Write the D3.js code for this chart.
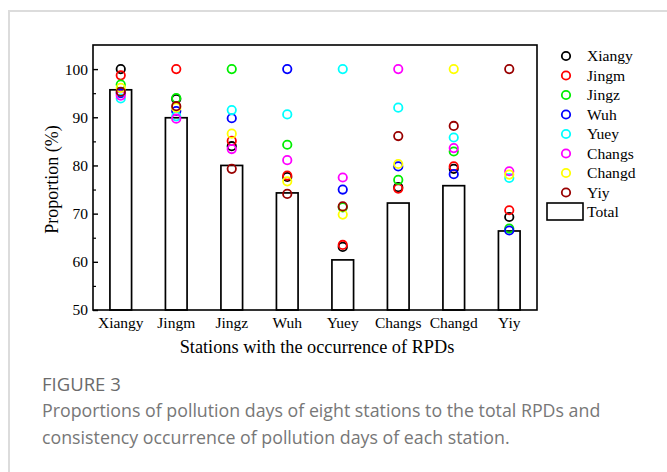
<!DOCTYPE html>
<html>
<head>
<meta charset="utf-8">
<script src="https://cdn.jsdelivr.net/npm/d3@7"></script>
<style>
  html, body { margin: 0; padding: 0; background: #fff; }
  svg { display: block; }
</style>
</head>
<body>
<svg id="chart" width="667" height="472"></svg>
<script>
// Stations (x categories)
const stations = ["Xiangy", "Jingm", "Jingz", "Wuh", "Yuey", "Changs", "Changd", "Yiy"];

// Proportion of each station's pollution days to the total RPDs (%)
const total = [95.7, 89.9, 80.0, 74.3, 60.4, 72.2, 75.8, 66.4];

// Consistency of occurrence: one series per station, one value per column
const xiangy = [100, 93.8, 84.0, 77.6, 63.1, 75.5, 79.3, 69.3];
const jingm  = [98.7, 100, 85.1, 77.9, 63.5, 75.2, 79.8, 70.7];
const jingz  = [96.8, 94.0, 100, 84.3, 71.3, 77.0, 82.9, 66.9];
const wuh    = [95.0, 91.3, 89.8, 100, 75.0, 79.8, 78.2, 66.5];
const yuey   = [93.9, 90.2, 91.5, 90.6, 100, 92.0, 85.8, 77.4];
const changs = [94.5, 89.7, 83.4, 81.1, 77.5, 100, 83.6, 78.8];
const changd = [96.1, 92.0, 86.6, 76.7, 69.8, 80.3, 100, 78.1];
const yiy    = [95.3, 92.3, 79.3, 74.1, 71.5, 86.1, 88.2, 100];

const seriesNames  = ["Xiangy", "Jingm", "Jingz", "Wuh", "Yuey", "Changs", "Changd", "Yiy"];
const seriesValues = [xiangy, jingm, jingz, wuh, yuey, changs, changd, yiy];
const seriesColors = ["#000000", "#ff0000", "#00ee00", "#0000ff", "#00ffff", "#ff00ff", "#ffff00", "#990000"];

const yTicks = [50, 60, 70, 80, 90, 100];
const yMinorTicks = [55, 65, 75, 85, 95];

const captionTitle = "FIGURE 3";
const captionLines = [
  "Proportions of pollution days of eight stations to the total RPDs and",
  "consistency occurrence of pollution days of each station."
];

const svg = d3.select("#chart");
const serif = "'Liberation Serif', 'Times New Roman', serif";

// Card outline
svg.append("path")
  .attr("d", "M9,472 V11 H667")
  .attr("fill", "none")
  .attr("stroke", "#dcdcdc")
  .attr("stroke-width", 2);

const plot = { left: 93, top: 45, right: 537, bottom: 310 };

const x = d3.scaleBand()
  .domain(stations)
  .range([plot.left, plot.right])
  .paddingInner(0.61)
  .paddingOuter(0.305);

const y = d3.scaleLinear()
  .domain([50, 105])
  .range([plot.bottom, plot.top]);

const g = svg.append("g");

// Total bars
g.selectAll("rect.bar")
  .data(stations)
  .join("rect")
  .attr("class", "bar")
  .attr("x", d => x(d))
  .attr("width", x.bandwidth())
  .attr("y", (d, i) => y(total[i]))
  .attr("height", (d, i) => y(50) - y(total[i]))
  .attr("fill", "#fff")
  .attr("stroke", "#000")
  .attr("stroke-width", 1.7);

// Circles for each series
seriesValues.forEach((vals, s) => {
  g.append("g")
    .selectAll("circle")
    .data(vals)
    .join("circle")
    .attr("cx", (d, i) => x(stations[i]) + x.bandwidth() / 2)
    .attr("cy", d => y(d))
    .attr("r", 4.2)
    .attr("fill", "none")
    .attr("stroke", seriesColors[s])
    .attr("stroke-width", 1.8);
});

// Plot frame
g.append("rect")
  .attr("x", plot.left)
  .attr("y", plot.top)
  .attr("width", plot.right - plot.left)
  .attr("height", plot.bottom - plot.top)
  .attr("fill", "none")
  .attr("stroke", "#000")
  .attr("stroke-width", 1.6);

// Y axis with inward ticks
const yAxis = d3.axisLeft(y)
  .tickValues(yTicks)
  .tickSizeInner(-5)
  .tickSizeOuter(0)
  .tickPadding(5)
  .tickFormat(d3.format("d"));

const yg = svg.append("g")
  .attr("transform", `translate(${plot.left},0)`)
  .call(yAxis);
yg.select(".domain").remove();
yg.selectAll(".tick line").attr("stroke", "#000").attr("stroke-width", 1.4);
yg.selectAll(".tick text")
  .attr("font-family", serif)
  .attr("font-size", 15.5)
  .attr("fill", "#000");

const yMinor = d3.axisLeft(y)
  .tickValues(yMinorTicks)
  .tickSizeInner(-3)
  .tickSizeOuter(0)
  .tickFormat("");
const ymg = svg.append("g")
  .attr("transform", `translate(${plot.left},0)`)
  .call(yMinor);
ymg.select(".domain").remove();
ymg.selectAll(".tick line").attr("stroke", "#000").attr("stroke-width", 1.2);

// X axis labels
const xAxis = d3.axisBottom(x).tickSize(0).tickPadding(7);
const xg = svg.append("g")
  .attr("transform", `translate(0,${plot.bottom})`)
  .call(xAxis);
xg.select(".domain").remove();
xg.selectAll(".tick text")
  .attr("font-family", serif)
  .attr("font-size", 15.5)
  .attr("fill", "#000");

// Axis titles
svg.append("text")
  .attr("transform", `translate(58,${(plot.top + plot.bottom) / 2 + 2}) rotate(-90)`)
  .attr("text-anchor", "middle")
  .attr("font-family", serif)
  .attr("font-size", 18)
  .text("Proportion (%)");

svg.append("text")
  .attr("x", (plot.left + plot.right) / 2 + 2)
  .attr("y", 353)
  .attr("text-anchor", "middle")
  .attr("font-family", serif)
  .attr("font-size", 18.3)
  .text("Stations with the occurrence of RPDs");

// Legend
const legend = svg.append("g");
const legendY0 = 56, legendStep = 19.5;
seriesNames.forEach((name, i) => {
  const ly = legendY0 + i * legendStep;
  legend.append("circle")
    .attr("cx", 566).attr("cy", ly).attr("r", 4.2)
    .attr("fill", "none").attr("stroke", seriesColors[i]).attr("stroke-width", 1.8);
  legend.append("text")
    .attr("x", 587).attr("y", ly + 5)
    .attr("font-family", serif).attr("font-size", 15.6)
    .text(name);
});
const totalY = legendY0 + 8 * legendStep;
legend.append("rect")
  .attr("x", 547).attr("y", totalY - 9).attr("width", 36).attr("height", 17)
  .attr("fill", "#fff").attr("stroke", "#000").attr("stroke-width", 1.6);
legend.append("text")
  .attr("x", 587).attr("y", totalY + 5)
  .attr("font-family", serif).attr("font-size", 15.6)
  .text("Total");

// Caption
const sans = "'Open Sans', 'Noto Sans', sans-serif";
svg.append("text")
  .attr("x", 42).attr("y", 391)
  .attr("font-family", sans).attr("font-size", 18.5).attr("font-weight", 500)
  .attr("fill", "#6b6b6b")
  .text(captionTitle);
captionLines.forEach((line, i) => {
  svg.append("text")
    .attr("x", 42).attr("y", 417 + i * 27)
    .attr("font-family", sans).attr("font-size", 17.8)
    .attr("fill", "#777777")
    .text(line);
});
</script>
</body>
</html>
